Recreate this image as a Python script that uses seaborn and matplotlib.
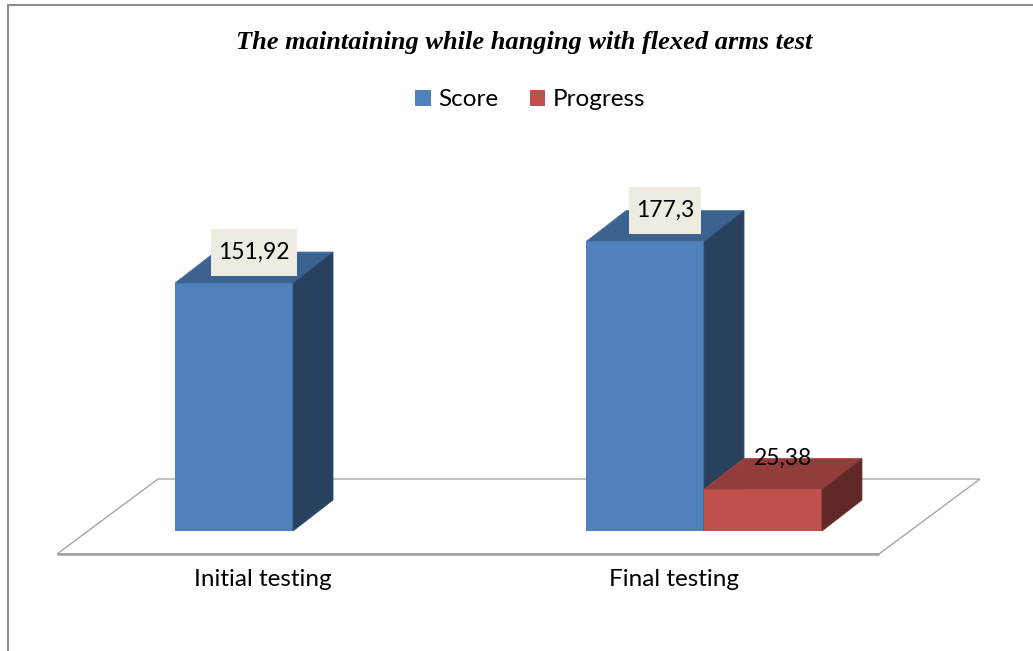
import numpy as np
import pandas as pd
import matplotlib
matplotlib.use("Agg")
import matplotlib.pyplot as plt
import matplotlib.colors as mcolors
import seaborn as sns
from matplotlib.patches import Polygon
from matplotlib.lines import Line2D

# ---------------- data ----------------
title = "The maintaining while hanging with flexed arms test"
categories = ["Initial testing", "Final testing"]
series = ["Score", "Progress"]
score = [151.92, 177.3]
progress = [None, 25.38]
colors = ["#4F81BD", "#C0504D"]
label_bg = {"Score": "#EEECE1", "Progress": None}

rows = []
for cat, s, p in zip(categories, score, progress):
    if s is not None:
        rows.append({"category": cat, "series": "Score", "value": s})
    if p is not None:
        rows.append({"category": cat, "series": "Progress", "value": p})
df = pd.DataFrame(rows)

# ---------------- layout (pixels) ----------------
W, H = 1033, 651
base_px = 531          # y pixel (from top) of value 0
sy = 1.632             # pixels per value unit
sx = 411.0             # pixels per category step
x0_px = 293            # x pixel of category 0 centre
depth_px = (40, 31)    # 3D depth offset in pixels
dx = depth_px[0] / sx
dy = depth_px[1] / sy

sns.set_theme(style="white")
plt.rcParams["font.family"] = ["Lato", "DejaVu Sans"]
plt.rcParams["text.color"] = "black"

fig = plt.figure(figsize=(W / 100, H / 100), dpi=100)
ax = fig.add_axes([0, 0, 1, 1])

sns.barplot(data=df, x="category", y="value", hue="series",
            order=categories, hue_order=series, palette=colors,
            saturation=1, width=0.574, linewidth=0, ax=ax, errorbar=None)

ax.set_xlim(-x0_px / sx, (W - x0_px) / sx)
ax.set_ylim(-(H - base_px) / sy, base_px / sy)
ax.axis("off")


def px2data(px, py):
    return ((px - x0_px) / sx, (base_px - py) / sy)


# floor parallelogram
floor_px = [(57, 554), (879, 554), (980, 479), (158, 479)]
floor = Polygon([px2data(*p) for p in floor_px], closed=True,
                facecolor="white", edgecolor="#A6A6A6", lw=1.0, zorder=1)
ax.add_patch(floor)
fx = [px2data(*floor_px[0])[0], px2data(*floor_px[1])[0]]
fy = px2data(*floor_px[0])[1]
ax.plot(fx, [fy, fy], color="#A0A0A0", lw=1.8, zorder=1.5,
        solid_capstyle="butt")

# collect bars with their series (one container per hue level)
bars = []
for si, cont in enumerate(ax.containers):
    for b in cont:
        h = b.get_height()
        if np.isfinite(h) and h > 0:
            bars.append((b, series[si]))
bars.sort(key=lambda t: t[0].get_x())

for i, (b, ser) in enumerate(bars):
    x, w, h = b.get_x(), b.get_width(), b.get_height()
    fc = np.array(mcolors.to_rgb(b.get_facecolor()))
    z = 3 + i
    b.set_zorder(z)
    top = Polygon([(x, h), (x + w, h), (x + w + dx, h + dy), (x + dx, h + dy)],
                  closed=True, facecolor=fc * 0.76, edgecolor=fc * 0.9,
                  lw=0.6, zorder=z)
    side = Polygon([(x + w, 0), (x + w + dx, dy), (x + w + dx, h + dy), (x + w, h)],
                   closed=True, facecolor=fc * 0.5, edgecolor=fc * 0.6,
                   lw=0.6, zorder=z)
    ax.add_patch(top)
    ax.add_patch(side)

# value labels
for b, ser in bars:
    x, w, h = b.get_x(), b.get_width(), b.get_height()
    txt = f"{h:g}".replace(".", ",")
    bg = label_bg[ser]
    kw = {}
    if bg:
        kw["bbox"] = dict(boxstyle="square,pad=0.3", facecolor=bg,
                          edgecolor="none", mutation_aspect=1.9)
    ax.text(x + w / 2 + dx / 2, h + dy, txt, ha="center", va="center",
            fontsize=16.5, color="black", zorder=20, **kw)

# category labels
label_off = -0.074
for i, cat in enumerate(categories):
    ax.text(i + label_off, (base_px - 579) / sy, cat, ha="center", va="center",
            fontsize=17.5, color="black")

# legend
sns.move_legend(ax, loc="center", bbox_to_anchor=(530 / W, 1 - 100 / H),
                ncol=2, frameon=False, title=None, fontsize=17.5,
                handlelength=0.65, handleheight=0.65, handletextpad=0.3,
                columnspacing=1.3)

# title
fig.text(524 / W, 1 - 43 / H, title, fontfamily="Liberation Serif",
         fontweight="bold", fontstyle="italic", fontsize=19,
         ha="center", va="center", color="black")

# chart border (left and top)
fig.add_artist(Line2D([8 / W, 8 / W], [0, 1 - 5 / H], transform=fig.transFigure,
                      color="#8C8C8C", lw=1.5))
fig.add_artist(Line2D([8 / W, 1], [1 - 5 / H, 1 - 5 / H], transform=fig.transFigure,
                      color="#8C8C8C", lw=1.5))

fig.savefig("out.png", dpi=100, facecolor="white")
